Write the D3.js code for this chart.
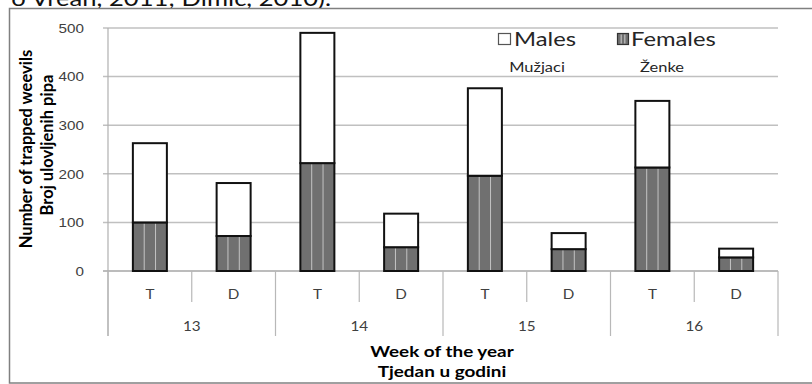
<!DOCTYPE html>
<html>
<head>
<meta charset="utf-8">
<script src="https://cdn.jsdelivr.net/npm/d3@7"></script>
<style>
  html, body { margin: 0; padding: 0; background: #fff; }
  svg { display: block; font-family: Lato, "Open Sans", sans-serif; }
</style>
</head>
<body>
<svg id="chart" width="812" height="384"></svg>
<script>
// ---- data ----
const weeks = ["13", "14", "15", "16"];
const traps = ["T", "D"];
const females = [100, 72, 222, 49, 196, 45, 213, 28];
const males = [163, 109, 268, 69, 180, 33, 137, 18];
const yTicks = [0, 100, 200, 300, 400, 500];
const seriesNames = ["Males", "Females"];
const seriesNamesHr = ["Mužjaci", "Ženke"];
const yTitle = ["Number of trapped weevils", "Broj ulovljenih pipa"];
const xTitle = ["Week of the year", "Tjedan u godini"];
const caption = "o Vrean, 2011; Dimić, 2010).";

// ---- layout ----
const W = 812, H = 384;
const plot = { left: 108, right: 778, top: 28, bottom: 271 };
const SX = 1.22; // horizontal stretch of the source picture's text

const svg = d3.select("#chart");

const cats = [];
weeks.forEach(w => traps.forEach(t => cats.push(w + "|" + t)));
const rows = cats.map((c, i) => ({ key: c, week: c.split("|")[0], trap: c.split("|")[1], Females: females[i], Males: males[i] }));

const x = d3.scaleBand().domain(cats).range([plot.left, plot.right]).paddingInner(0.594).paddingOuter(0.297);
const y = d3.scaleLinear().domain([0, 500]).range([plot.bottom, plot.top]);
const step = x.step();

function stext(g, str, px, py, opts) {
  const sx = opts.sx == null ? SX : opts.sx;
  const t = g.append("text")
    .attr("transform", `translate(${px},${py}) scale(${sx},1)` + (opts.rotate ? ` rotate(${opts.rotate})` : ""))
    .attr("text-anchor", opts.anchor || "start")
    .attr("font-size", opts.size)
    .attr("font-weight", opts.weight || "normal")
    .attr("fill", opts.fill || "#000")
    .text(str);
  return t;
}

// caption fragment at top (cut off, as in the source)
stext(svg, caption, 331, 6, { anchor: "end", size: 21, fill: "#111" });

// outer frame
svg.append("rect").attr("x", 9.5).attr("y", 8.5).attr("width", 812).attr("height", 374.5)
  .attr("fill", "#fff").attr("stroke", "#808080").attr("stroke-width", 1.5);

// gridlines
const grid = svg.append("g");
grid.selectAll("line").data(yTicks).join("line")
  .attr("x1", plot.left - 5).attr("x2", plot.right)
  .attr("y1", d => y(d)).attr("y2", d => y(d))
  .attr("stroke", d => d === 0 ? "#a6a6a6" : "#c0c0c0").attr("stroke-width", 1.5);

// y axis line
svg.append("line").attr("x1", plot.left).attr("x2", plot.left)
  .attr("y1", plot.top).attr("y2", 336).attr("stroke", "#b0b0b0").attr("stroke-width", 1.2);

// y tick labels
const yAxis = d3.axisLeft(y).tickValues(yTicks).tickSize(0).tickPadding(0).tickFormat(() => "");
const yg = svg.append("g").attr("transform", `translate(${plot.left - 24},0)`).call(yAxis);
yg.select(".domain").remove();
yg.selectAll(".tick").each(function(d) {
  const g = d3.select(this);
  g.select("text").remove();
  g.append("text").attr("transform", `scale(${SX},1)`).attr("text-anchor", "end")
    .attr("font-size", 12.5).attr("fill", "#404040").attr("dy", "0.35em").text(d);
});

// x axis separators
const xs = svg.append("g");
weeks.forEach(w => {
  const xm = x(w + "|D") - (step - x.bandwidth()) / 2;
  xs.append("line").attr("x1", xm).attr("x2", xm).attr("y1", plot.bottom).attr("y2", 302)
    .attr("stroke", "#b8b8b8").attr("stroke-width", 1.2);
});
const weekEdges = weeks.map(w => x(w + "|T") - (step - x.bandwidth()) / 2).concat([plot.right]);
weekEdges.forEach(xe => {
  xs.append("line").attr("x1", xe).attr("x2", xe).attr("y1", plot.bottom).attr("y2", 336)
    .attr("stroke", "#b8b8b8").attr("stroke-width", 1.2);
});

// trap labels
rows.forEach(r => {
  stext(xs, r.trap, x(r.key) + x.bandwidth() / 2, 298.5, { anchor: "middle", size: 12.5, fill: "#404040" });
});
// week labels
weeks.forEach(w => {
  const cx = x(w + "|T") - (step - x.bandwidth()) / 2 + step;
  stext(xs, w, cx, 330.5, { anchor: "middle", size: 12.5, fill: "#404040" });
});

// ---- bars ----
const stack = d3.stack().keys(["Females", "Males"]);
const stacked = stack(rows);
const bars = svg.append("g");
const fillOf = { Females: "#707070", Males: "#ffffff" };
stacked.forEach(layer => {
  const g = bars.append("g");
  g.selectAll("rect").data(layer).join("rect")
    .attr("x", d => x(d.data.key))
    .attr("width", x.bandwidth())
    .attr("y", d => y(d[1]))
    .attr("height", d => y(d[0]) - y(d[1]))
    .attr("fill", fillOf[layer.key]);
  if (layer.key === "Females") {
    [1 / 3, 2 / 3].forEach(f => {
      g.selectAll(null).data(layer).join("line")
        .attr("x1", d => x(d.data.key) + x.bandwidth() * f)
        .attr("x2", d => x(d.data.key) + x.bandwidth() * f)
        .attr("y1", d => y(d[1]) + 1).attr("y2", d => y(d[0]) - 1)
        .attr("stroke", "#c4c4c4").attr("stroke-width", 1);
    });
  }
  g.selectAll(null).data(layer).join("rect")
    .attr("x", d => x(d.data.key))
    .attr("width", x.bandwidth())
    .attr("y", d => y(d[1]))
    .attr("height", d => y(d[0]) - y(d[1]))
    .attr("fill", "none").attr("stroke", "#111").attr("stroke-width", 2);
});

// ---- legend ----
const lg = svg.append("g");
lg.append("rect").attr("x", 498.5).attr("y", 33.5).attr("width", 12).attr("height", 11)
  .attr("fill", "#fff").attr("stroke", "#555").attr("stroke-width", 1.2);
stext(lg, seriesNames[0], 514, 45.5, { size: 19.5, fill: "#262626" });
stext(lg, seriesNamesHr[0], 537, 72, { anchor: "middle", size: 13.5, fill: "#262626" });
lg.append("rect").attr("x", 617.5).attr("y", 33.5).attr("width", 11).attr("height", 11)
  .attr("fill", "#707070").attr("stroke", "#333").attr("stroke-width", 1.2);
[1 / 3, 2 / 3].forEach(f => {
  lg.append("line").attr("x1", 617.5 + 11 * f).attr("x2", 617.5 + 11 * f)
    .attr("y1", 34.5).attr("y2", 43.5).attr("stroke", "#d0d0d0").attr("stroke-width", 1);
});
stext(lg, seriesNames[1], 631, 45.5, { size: 19.5, fill: "#262626" });
stext(lg, seriesNamesHr[1], 662, 72, { anchor: "middle", size: 13.5, fill: "#262626" });

// ---- axis titles ----
stext(svg, yTitle[0], 32, 149, { anchor: "middle", size: 16.5, weight: "bold", rotate: -90, sx: 1 });
stext(svg, yTitle[1], 52.5, 145, { anchor: "middle", size: 16.5, weight: "bold", rotate: -90, sx: 1 });
stext(svg, xTitle[0], 442, 357, { anchor: "middle", size: 15.5, weight: "bold" });
stext(svg, xTitle[1], 442, 377, { anchor: "middle", size: 15.5, weight: "bold" });
</script>
</body>
</html>
